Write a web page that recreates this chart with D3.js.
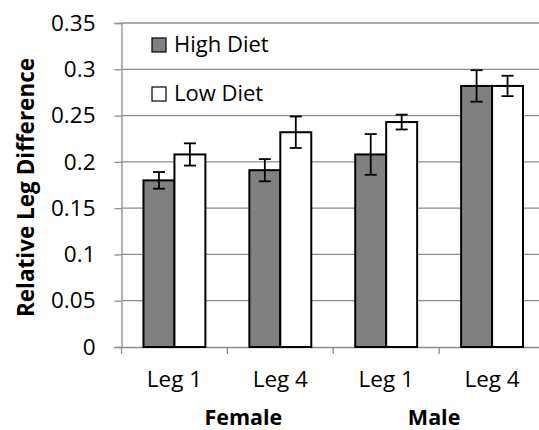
<!DOCTYPE html>
<html>
<head>
<meta charset="utf-8">
<script src="https://cdn.jsdelivr.net/npm/d3@7"></script>
<style>
  html, body { margin: 0; padding: 0; background: #fff; }
  svg { display: block; }
  text { font-family: "Open Sans", sans-serif; fill: #000; }
</style>
</head>
<body>
<svg id="chart" width="539" height="430"></svg>
<script>
// ---- data ----
const categories = ["F-Leg1", "F-Leg4", "M-Leg1", "M-Leg4"];
const categoryLabels = ["Leg 1", "Leg 4", "Leg 1", "Leg 4"];
const groups = ["Female", "Male"];
const series = ["High Diet", "Low Diet"];
const highValues = [0.180, 0.191, 0.208, 0.282];
const highErrors = [0.009, 0.012, 0.022, 0.017];
const lowValues  = [0.208, 0.232, 0.243, 0.282];
const lowErrors  = [0.012, 0.017, 0.008, 0.011];
const yTicks = [0, 0.05, 0.1, 0.15, 0.2, 0.25, 0.3, 0.35];
const yTickLabels = ["0", "0.05", "0.1", "0.15", "0.2", "0.25", "0.3", "0.35"];

const seriesFill = {"High Diet": "#808080", "Low Diet": "#ffffff"};
const gridColor = "#8c8c8c";

const svg = d3.select("#chart");
svg.append("rect").attr("width", 539).attr("height", 430).attr("fill", "#fff");

const plot = {left: 121.5, right: 545, top: 23, bottom: 347};

const y = d3.scaleLinear().domain([0, 0.35]).range([plot.bottom, plot.top]);
const x0 = d3.scaleBand().domain(categories).range([plot.left, plot.right]).paddingInner(0).paddingOuter(0);
const x1 = d3.scaleBand().domain(series).range([0, x0.bandwidth()]).paddingInner(0).paddingOuter(0.71);

// gridlines
svg.append("g").selectAll("line").data(yTicks.slice(1)).join("line")
  .attr("x1", plot.left).attr("x2", plot.right)
  .attr("y1", d => y(d)).attr("y2", d => y(d))
  .attr("stroke", gridColor).attr("stroke-width", 1.3);

// y axis
const yAxis = d3.axisLeft(y).tickValues(yTicks)
  .tickFormat((d, i) => yTickLabels[i]).tickSize(7).tickPadding(19);
const gy = svg.append("g").attr("transform", `translate(${plot.left},0)`).call(yAxis);
gy.select(".domain").attr("stroke", gridColor).attr("stroke-width", 1.3);
gy.selectAll(".tick line").attr("stroke", gridColor).attr("stroke-width", 1.3);
gy.selectAll(".tick text").attr("font-size", 22.5).attr("font-family", "Open Sans").attr("fill", "#000");

// x axis
const xAxis = d3.axisBottom(x0).tickSize(0).tickFormat((d, i) => categoryLabels[i]).tickPadding(24);
const gx = svg.append("g").attr("transform", `translate(0,${plot.bottom})`).call(xAxis);
gx.select(".domain").attr("stroke", gridColor).attr("stroke-width", 1.3);
gx.selectAll(".tick text").attr("font-size", 22.5).attr("font-family", "Open Sans").attr("fill", "#000");
// category boundary ticks
gx.append("g").selectAll("line").data(categories).join("line")
  .attr("x1", d => x0(d)).attr("x2", d => x0(d))
  .attr("y1", 0).attr("y2", 7)
  .attr("stroke", gridColor).attr("stroke-width", 1.3);

// group labels
const groupOffset = [16, -5];
svg.append("g").selectAll("text").data(groups).join("text")
  .attr("x", (d, i) => x0(categories[i * 2 + 1]) + groupOffset[i])
  .attr("y", 425)
  .attr("text-anchor", "middle")
  .attr("font-size", 21.5).attr("font-weight", "bold")
  .text(d => d);

// bars
const barData = [];
categories.forEach((c, i) => {
  barData.push({cat: c, s: "High Diet", v: highValues[i], e: highErrors[i]});
  barData.push({cat: c, s: "Low Diet", v: lowValues[i], e: lowErrors[i]});
});

svg.append("g").selectAll("rect").data(barData).join("rect")
  .attr("x", d => x0(d.cat) + x1(d.s))
  .attr("y", d => y(d.v))
  .attr("width", x1.bandwidth())
  .attr("height", d => y(0) - y(d.v))
  .attr("fill", d => seriesFill[d.s])
  .attr("stroke", "#000").attr("stroke-width", 2);

// error bars
const eb = svg.append("g").attr("stroke", "#000").attr("stroke-width", 1.8);
const cap = 6;
barData.forEach(d => {
  const cx = x0(d.cat) + x1(d.s) + x1.bandwidth() / 2;
  eb.append("line").attr("x1", cx).attr("x2", cx).attr("y1", y(d.v + d.e)).attr("y2", y(d.v - d.e));
  eb.append("line").attr("x1", cx - cap).attr("x2", cx + cap).attr("y1", y(d.v + d.e)).attr("y2", y(d.v + d.e));
  eb.append("line").attr("x1", cx - cap).attr("x2", cx + cap).attr("y1", y(d.v - d.e)).attr("y2", y(d.v - d.e));
});

// y axis title
svg.append("text")
  .attr("transform", `translate(34,${(60 + 315) / 2}) rotate(-90)`)
  .attr("text-anchor", "middle")
  .attr("font-size", 22.5).attr("font-weight", "bold")
  .text("Relative Leg Difference");

// legend
const legend = svg.append("g");
series.forEach((s, i) => {
  const ly = 38 + i * 49;
  legend.append("rect").attr("x", 152).attr("y", ly).attr("width", 14).attr("height", 14)
    .attr("fill", seriesFill[s]).attr("stroke", "#000").attr("stroke-width", 1.2);
  legend.append("text").attr("x", 174).attr("y", ly + 14)
    .attr("font-size", 22).text(s);
});
</script>
</body>
</html>
